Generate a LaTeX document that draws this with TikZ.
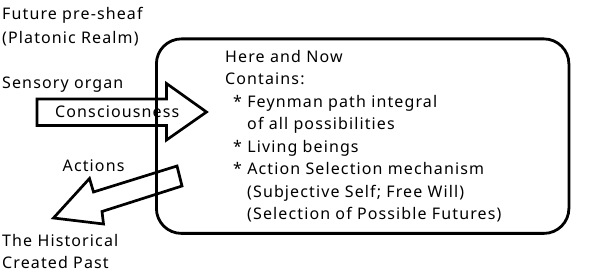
\documentclass[tikz,border=0pt]{standalone}
\usepackage{fontspec}
\setmainfont{Noto Sans}[LetterSpace=7]
\begin{document}
\begin{tikzpicture}[x=1pt,y=-1pt,
  lbl/.style={anchor=base west, inner sep=0pt, font=\fontsize{16}{22.6}\selectfont},
  blockarrow/.style={draw=black, fill=white, line width=2.7pt, line join=miter},
  realm/.style={draw=black, line width=2.8pt, rounded corners=25pt}]
\useasboundingbox (0,0) rectangle (600,275);
% block arrows
\draw[blockarrow] (37,99) -- (166.5,99) -- (166.5,83.5) -- (206.5,112) -- (166.5,140) -- (166.5,125.5) -- (37,125.5) -- cycle;
\draw[blockarrow] (53.5,218) -- (89.5,178.5) -- (93.5,192) -- (177,166) -- (182,186) -- (102,211.5) -- (103.5,224) -- cycle;
% here and now box
\node[realm, minimum width=412.5pt, minimum height=194.5pt, anchor=north west] (hn) at (155,37.5) {};
% labels
\node[lbl] (fut1) at (2,20) {Future pre-sheaf};
\node[lbl] (fut2) at (2,44) {(Platonic Realm)};
\node[lbl] (sens) at (2,89) {Sensory organ};
\node[lbl] (cons) at (55,117.5) {Consciousness};
\node[lbl] (act) at (62.5,171.5) {Actions};
\node[lbl] (hist1) at (2,247) {The Historical};
\node[lbl] (hist2) at (2,269) {Created Past};
\node[lbl] (l1) at (225,62.5) {Here and Now};
\node[lbl] (l2) at (225,85) {Contains:};
\node[lbl] (l3) at (233,107.5) {* Feynman path integral};
\node[lbl] (l4) at (247,130) {of all possibilities};
\node[lbl] (l5) at (233,152.5) {* Living beings};
\node[lbl] (l6) at (233,175) {* Action Selection mechanism};
\node[lbl] (l7) at (247,197.5) {(Subjective Self; Free Will)};
\node[lbl] (l8) at (247,220) {(Selection of Possible Futures)};
\end{tikzpicture}
\end{document}
